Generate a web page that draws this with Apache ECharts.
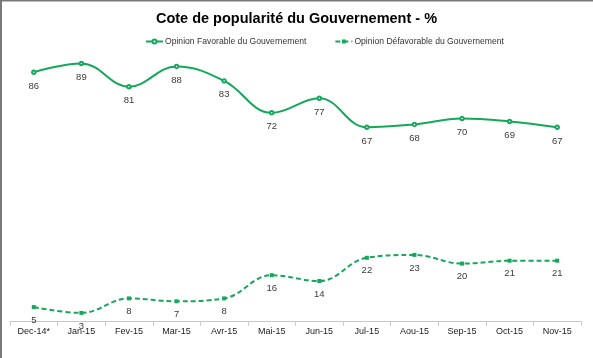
<!DOCTYPE html>
<html><head><meta charset="utf-8">
<script src="https://cdn.jsdelivr.net/npm/echarts@6/dist/echarts.min.js"></script>
<style>html,body{margin:0;padding:0;background:#fff}#c{width:593px;height:358px}</style>
</head><body><div id="c"></div>
<script>
const categories = ["Dec-14*","Jan-15","Fev-15","Mar-15","Avr-15","Mai-15","Jun-15","Jul-15","Aou-15","Sep-15","Oct-15","Nov-15"];
const favorable = [86,89,81,88,83,72,77,67,68,70,69,67];
const defavorable = [5,3,8,7,8,16,14,22,23,20,21,21];
const seriesNames = ["Opinion Favorable du Gouvernement","Opinion Défavorable du Gouvernement"];
const titleText = "Cote de popularité du Gouvernement - %";

const green = "#14a85a";
const chart = echarts.init(document.getElementById('c'));
chart.setOption({
  animation: false,
  title: {text: titleText, left: 'center', top: 6, textStyle: {fontFamily: 'Liberation Sans, Arial', fontSize: 14.5, fontWeight: 'bold', color: '#000'}},
  legend: {top: 32, left: 140, itemGap: 28, itemWidth: 17, itemHeight: 5,
    textStyle: {fontFamily: 'Liberation Sans, Arial', fontSize: 8.6, color: '#333', padding: [0,0,0,-3]},
    data: seriesNames},
  grid: {left: 10, right: 12, top: 31.6, bottom: 36.4},
  xAxis: {type: 'category', data: categories, boundaryGap: true,
    axisLine: {lineStyle: {color: '#c8c8c8', width: 1}},
    axisTick: {show: true, length: 4, lineStyle: {color: '#c8c8c8'}},
    axisLabel: {fontFamily: 'Liberation Sans, Arial', fontSize: 9, color: '#222', margin: 5, interval: 0}},
  yAxis: {type: 'value', min: 0, max: 100, show: false, splitLine: {show: false}},
  series: [
    {name: seriesNames[0], type: 'line', data: favorable, smooth: 0.4,
     symbol: 'emptyCircle', symbolSize: 3.5,
     lineStyle: {color: green, width: 2}, itemStyle: {color: green, borderWidth: 1},
     label: {show: true, position: 'bottom', distance: 6, fontFamily: 'Liberation Sans, Arial', fontSize: 9.5, color: '#3a3a3a'}},
    {name: seriesNames[1], type: 'line', data: defavorable, smooth: 0.4,
     symbol: 'rect', symbolSize: 4,
     lineStyle: {color: green, width: 2, type: [5,3]}, itemStyle: {color: green},
     label: {show: true, position: 'bottom', distance: 6, fontFamily: 'Liberation Sans, Arial', fontSize: 9.5, color: '#3a3a3a'}}
  ],
  graphic: [
    {type: 'rect', shape: {x: 0, y: 0, width: 593, height: 1.5}, style: {fill: '#7a7a7a'}},
    {type: 'rect', shape: {x: 0, y: 0, width: 2, height: 358}, style: {fill: '#7a7a7a'}}
  ]
});
</script></body></html>
